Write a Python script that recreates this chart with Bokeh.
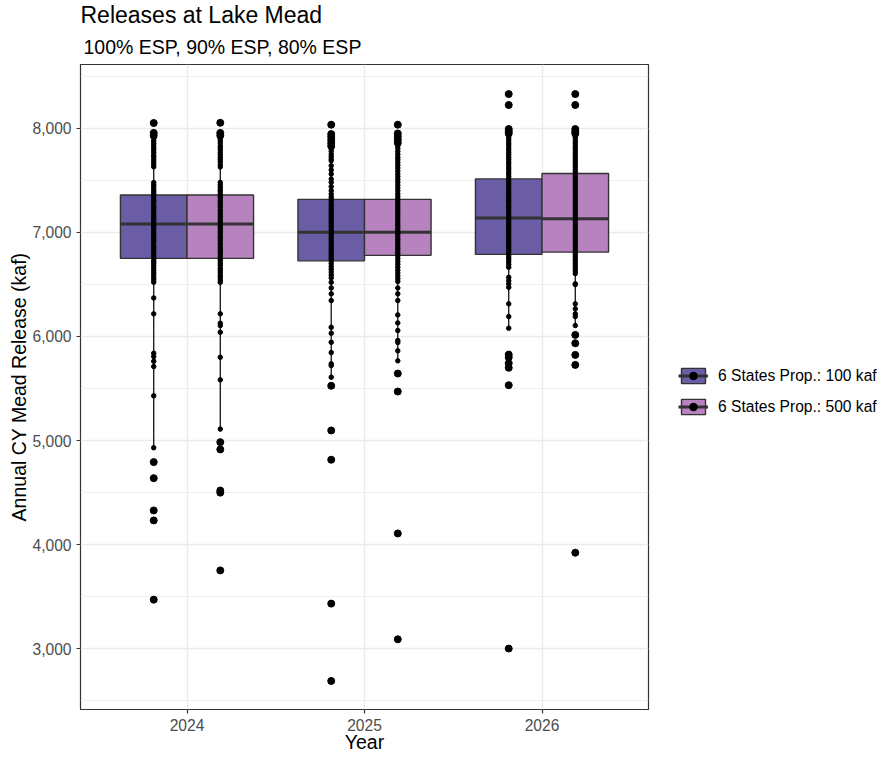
from bokeh.plotting import figure
from bokeh.models import (FactorRange, Range1d, ColumnDataSource, FixedTicker,
                          NumeralTickFormatter, Legend, LegendItem, Title)
from bokeh.transform import dodge
from bokeh.embed import file_html
from bokeh.resources import INLINE

years = ["2024", "2025", "2026"]
series = ["6 States Prop.: 100 kaf", "6 States Prop.: 500 kaf"]
colors = ["#6B5CA6", "#B683BE"]

# box statistics (kaf)
q1_100 = [6750, 6726, 6788]
med_100 = [7080, 7000, 7137]
q3_100 = [7359, 7317, 7513]
lo_100 = [4931, 5609, 6079]
hi_100 = [7902, 7805, 7928]

q1_500 = [6750, 6779, 6810]
med_500 = [7080, 7000, 7130]
q3_500 = [7359, 7317, 7565]
lo_500 = [5110, 5766, 6105]
hi_500 = [7902, 7830, 7928]

# outliers (large dots)
out_100_2024 = [8050, 7955, 7928, 4793, 4639, 4329, 4233, 3472]
out_100_2025 = [8034, 7944, 7915, 7885, 7855, 7828, 5526, 5097, 4816, 3434, 2691]
out_100_2026 = [8328, 8223, 7992, 7970, 7950, 5826, 5800, 5743, 5699, 5532, 3002]
out_500_2024 = [8052, 7955, 7930, 4985, 4915, 4520, 4500, 3753]
out_500_2025 = [8034, 7950, 7920, 7890, 7860, 5644, 5471, 4108, 3091]
out_500_2026 = [8328, 8223, 7992, 7968, 7948, 6015, 5935, 5823, 5727, 3923]

# individual traces (small dots)
pts_100_2024 = [7902, 7878, 7855, 7833, 7810, 7792, 7768, 7741, 7722, 7697, 7675, 7652, 7630,
                7478, 7455, 7436, 7412, 7391, 7372, 7351, 7330, 7306, 7288, 7262, 7241, 7219,
                7196, 7178, 7153, 7131, 7112, 7090, 7068, 7049, 7027, 7003, 6985, 6962, 6940,
                6918, 6897, 6871, 6852, 6833, 6808, 6787, 6766, 6745, 6722, 6703, 6681, 6658,
                6636, 6612, 6590, 6566, 6545, 6521, 6370, 6217, 5839, 5807, 5762, 5711, 5430, 4931]
pts_500_2024 = [7902, 7880, 7857, 7831, 7812, 7790, 7766, 7743, 7720, 7699, 7677, 7650, 7628,
                7480, 7457, 7433, 7410, 7393, 7370, 7349, 7332, 7308, 7285, 7264, 7243, 7217,
                7198, 7175, 7155, 7133, 7110, 7092, 7066, 7047, 7025, 7005, 6983, 6960, 6942,
                6920, 6895, 6873, 6850, 6830, 6810, 6789, 6764, 6743, 6724, 6701, 6683, 6655,
                6634, 6614, 6588, 6568, 6543, 6520, 6217, 6127, 6105, 6040, 5800, 5583, 5110]
pts_100_2025 = [7805, 7780, 7752, 7728, 7704, 7688, 7640, 7599, 7560, 7512, 7480, 7439, 7400,
                7368, 7340, 7318, 7296, 7270, 7248, 7226, 7203, 7181, 7158, 7135, 7112, 7090,
                7067, 7045, 7021, 6998, 6976, 6952, 6931, 6907, 6885, 6862, 6840, 6816, 6795,
                6772, 6750, 6728, 6700, 6672, 6645, 6618, 6590, 6563, 6520, 6466, 6409, 6345,
                6088, 6031, 5944, 5845, 5737, 5721, 5609]
pts_500_2025 = [7830, 7805, 7778, 7750, 7722, 7698, 7671, 7645, 7618, 7590, 7562, 7536, 7508,
                7480, 7452, 7425, 7398, 7370, 7345, 7320, 7297, 7274, 7250, 7228, 7205, 7183,
                7160, 7137, 7113, 7090, 7068, 7045, 7022, 7000, 6978, 6955, 6932, 6910, 6887,
                6865, 6842, 6820, 6798, 6775, 6748, 6720, 6693, 6665, 6637, 6610, 6582, 6555,
                6528, 6466, 6409, 6345, 6207, 6130, 6057, 5961, 5942, 5862, 5766]
pts_100_2026 = [7928, 7905, 7882, 7858, 7836, 7812, 7790, 7766, 7744, 7720, 7698, 7674, 7652,
                7628, 7606, 7582, 7560, 7536, 7514, 7491, 7468, 7446, 7422, 7400, 7377, 7354,
                7331, 7308, 7286, 7262, 7240, 7217, 7194, 7171, 7148, 7125, 7102, 7080, 7057,
                7034, 7011, 6988, 6965, 6942, 6920, 6897, 6874, 6851, 6828, 6806, 6783, 6760,
                6738, 6715, 6690, 6664, 6568, 6536, 6505, 6472, 6313, 6191, 6079]
pts_500_2026 = [7928, 7904, 7880, 7857, 7833, 7810, 7787, 7764, 7741, 7717, 7694, 7671, 7648,
                7625, 7601, 7578, 7555, 7532, 7509, 7486, 7462, 7439, 7416, 7393, 7370, 7347,
                7323, 7300, 7277, 7254, 7231, 7208, 7184, 7161, 7138, 7115, 7092, 7069, 7046,
                7022, 6999, 6976, 6953, 6930, 6907, 6884, 6860, 6837, 6814, 6791, 6768, 6745,
                6722, 6698, 6675, 6652, 6628, 6604, 6505, 6498, 6313, 6265, 6217, 6191, 6105]

y_major = [3000, 4000, 5000, 6000, 7000, 8000]
y_minor = [2500, 3500, 4500, 5500, 6500, 7500, 8500]

FONT = "Liberation Sans"

p = figure(x_range=FactorRange(factors=years, range_padding=0.1, range_padding_units="absolute"),
           y_range=Range1d(2417, 8612),
           frame_width=568, frame_height=645,
           min_border_left=80, min_border_right=228, min_border_top=0, min_border_bottom=0,
           output_backend="svg", toolbar_location=None, title=None)

p.background_fill_color = "white"
p.border_fill_color = "white"
p.outline_line_color = "#333333"
p.outline_line_width = 1.2

p.yaxis.ticker = FixedTicker(ticks=y_major)
p.yaxis.formatter = NumeralTickFormatter(format="0,0")
p.ygrid.ticker = FixedTicker(ticks=y_major, minor_ticks=y_minor)
p.ygrid.grid_line_color = "#EBEBEB"
p.ygrid.grid_line_width = 1.4
p.ygrid.minor_grid_line_color = "#EBEBEB"
p.ygrid.minor_grid_line_width = 0.8
p.xgrid.grid_line_color = "#EBEBEB"
p.xgrid.grid_line_width = 1.4

for ax in (p.xaxis[0], p.yaxis[0]):
    ax.axis_line_color = None
    ax.major_tick_line_color = "#333333"
    ax.major_tick_line_width = 1.2
    ax.major_tick_out = 4
    ax.major_tick_in = 0
    ax.minor_tick_out = 0
    ax.minor_tick_in = 0
    ax.major_label_text_font = FONT
    ax.major_label_text_font_size = "15.6px"
    ax.major_label_text_color = "#4D4D4D"
    ax.major_label_standoff = 5
    ax.axis_label_text_font = FONT
    ax.axis_label_text_font_size = "19.5px"
    ax.axis_label_text_font_style = "normal"
    ax.axis_label_text_color = "black"
    ax.axis_label_standoff = 4

p.xaxis.axis_label_standoff = -3
p.yaxis.axis_label_standoff = -1
p.xaxis.axis_label = "Year"
p.yaxis.axis_label = "Annual CY Mead Release (kaf)"

sub = Title(text="100% ESP, 90% ESP, 80% ESP", text_font=FONT, text_font_size="19.5px",
            text_font_style="normal", text_color="black", align="left", offset=3, standoff=13)
main = Title(text="Releases at Lake Mead", text_font=FONT, text_font_size="23px",
             text_font_style="normal", text_color="black", align="left", offset=0, standoff=-1)
p.add_layout(sub, "above")
p.add_layout(main, "above")

stats = [
    (q1_100, med_100, q3_100, lo_100, hi_100,
     [pts_100_2024, pts_100_2025, pts_100_2026], [out_100_2024, out_100_2025, out_100_2026]),
    (q1_500, med_500, q3_500, lo_500, hi_500,
     [pts_500_2024, pts_500_2025, pts_500_2026], [out_500_2024, out_500_2025, out_500_2026]),
]
offsets = [-0.1875, 0.1875]
half = 0.1875

items = []
for ser, col, off, (q1, med, q3, lo, hi, pts, outs) in zip(series, colors, offsets, stats):
    src = ColumnDataSource(dict(year=years, q1=q1, med=med, q3=q3, lo=lo, hi=hi))
    xc = dodge("year", off, range=p.x_range)
    p.segment(x0=xc, y0="lo", x1=xc, y1="q1", line_color="#111111", line_width=1.3, source=src)
    p.segment(x0=xc, y0="q3", x1=xc, y1="hi", line_color="#111111", line_width=1.3, source=src)
    box = p.vbar(x=xc, width=2 * half, bottom="q1", top="q3", fill_color=col,
                 line_color="#333333", line_width=1.4, source=src)
    mline = p.segment(x0=dodge("year", off - half, range=p.x_range), y0="med",
                      x1=dodge("year", off + half, range=p.x_range), y1="med",
                      line_color="#333333", line_width=3, source=src)
    oy, ov = [], []
    for yr, vals in zip(years, outs):
        oy += [yr] * len(vals)
        ov += vals
    osrc = ColumnDataSource(dict(year=oy, v=ov))
    p.scatter(x=dodge("year", off, range=p.x_range), y="v", size=7, marker="circle",
              fill_color="black", line_color="black", source=osrc)
    py, pv = [], []
    for yr, vals in zip(years, pts):
        py += [yr] * len(vals)
        pv += vals
    psrc = ColumnDataSource(dict(year=py, v=pv))
    dots = p.scatter(x=dodge("year", off, range=p.x_range), y="v", size=4.5, marker="circle",
                     fill_color="black", line_color="black", source=psrc)
    items.append(LegendItem(label=ser, renderers=[box, mline, dots]))

legend = Legend(items=items, location=(30, 293), orientation="vertical",
                glyph_width=30, glyph_height=19, label_height=19, spacing=12,
                padding=0, margin=0, label_standoff=10,
                background_fill_alpha=0, border_line_color=None,
                label_text_font=FONT, label_text_font_size="15.6px", label_text_color="black")
p.add_layout(legend, "right")

open("out.html", "w").write(file_html(p, INLINE))
